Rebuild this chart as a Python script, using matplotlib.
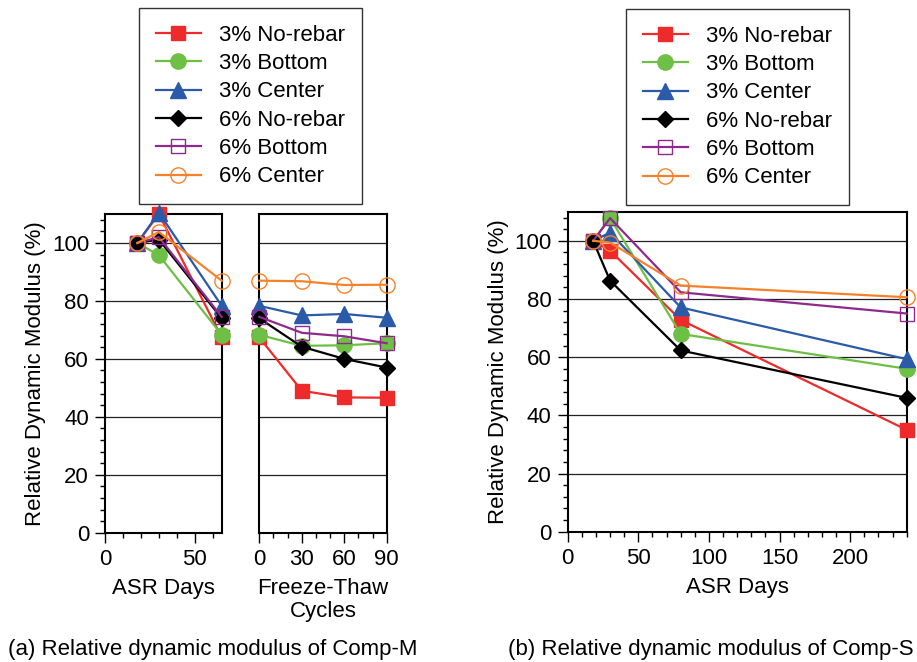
import matplotlib
matplotlib.use("Agg")
import matplotlib.pyplot as plt
from matplotlib.ticker import MultipleLocator

plt.rcParams["font.family"] = ["Liberation Sans", "DejaVu Sans"]
plt.rcParams["font.size"] = 16

labels = ["3% No-rebar", "3% Bottom", "3% Center", "6% No-rebar", "6% Bottom", "6% Center"]
colors = ["#ee2a2a", "#6dbf45", "#2a5aa8", "#000000", "#8e2a8e", "#f5822a"]
markers = ["s", "o", "^", "D", "s", "o"]
filled = [True, True, True, True, False, False]

# Comp-M: ASR exposure, then freeze-thaw cycles
asr_days_m = [18, 30, 65]
ft_cycles = [0, 30, 60, 90]
m_asr = [
    [100, 110.0, 67.4],
    [100, 95.8, 68.3],
    [100, 110.5, 78.3],
    [100, 101.2, 74.0],
    [100, 102.0, 74.5],
    [100, 103.8, 87.0],
]
m_ft = [
    [67.4, 49.0, 46.7, 46.6],
    [68.3, 64.5, 64.7, 65.4],
    [78.3, 75.0, 75.5, 74.2],
    [74.0, 64.2, 60.0, 57.0],
    [74.5, 69.0, 67.8, 65.4],
    [87.0, 86.8, 85.5, 85.6],
]

# Comp-S: ASR exposure only
asr_days_s = [18, 30, 80, 240]
s_asr = [
    [100, 96.6, 72.8, 35.0],
    [100, 107.8, 68.0, 56.0],
    [100, 102.8, 77.1, 59.3],
    [100, 86.3, 62.3, 46.0],
    [100, 107.8, 82.3, 75.0],
    [100, 99.4, 84.6, 80.6],
]

marker_size = {"s": 10.5, "o": 11, "^": 11.5, "D": 8.5}


def draw_series(ax, x, ys):
    handles = []
    for i, y in enumerate(ys):
        h, = ax.plot(
            x, y, color=colors[i], lw=1.6, marker=markers[i],
            ms=marker_size[markers[i]],
            mfc=colors[i] if filled[i] else "none", mec=colors[i],
            mew=1.0, clip_on=False, zorder=3, label=labels[i],
        )
        handles.append(h)
    return handles


def style_axis(ax, xmaj, xmin):
    ax.set_ylim(0, 110)
    ax.yaxis.set_major_locator(MultipleLocator(20))
    ax.yaxis.set_minor_locator(MultipleLocator(4))
    ax.xaxis.set_major_locator(MultipleLocator(xmaj))
    ax.xaxis.set_minor_locator(MultipleLocator(xmin))
    ax.grid(axis="y", which="major", color="#222222", lw=0.9)
    ax.set_axisbelow(True)
    for sp in ax.spines.values():
        sp.set_linewidth(1.5)
    ax.tick_params(which="major", direction="out", length=7, width=1.0,
                   labelsize=16, pad=4.5)
    ax.tick_params(which="minor", direction="out", length=3.5, width=1.0)
    ax.tick_params(top=False, right=False, which="both")


fig = plt.figure(figsize=(9.17, 6.62), dpi=100)

ax1 = fig.add_axes([0.1145, 0.1953, 0.1273, 0.4814])
ax2 = fig.add_axes([0.2828, 0.1953, 0.1389, 0.4814])
ax3 = fig.add_axes([0.6191, 0.1968, 0.3697, 0.4834])

h_left = draw_series(ax1, asr_days_m, m_asr)
draw_series(ax2, ft_cycles, m_ft)
h_right = draw_series(ax3, asr_days_s, s_asr)

style_axis(ax1, 50, 10)
ax1.set_xlim(0, 65)
style_axis(ax2, 30, 10)
ax2.set_xlim(0, 90)
ax2.tick_params(axis="y", which="both", left=False, labelleft=False)
style_axis(ax3, 50, 10)
ax3.set_xlim(0, 240)

ylabel = "Relative Dynamic Modulus (%)"
ax1.set_ylabel(ylabel, fontsize=16, labelpad=4)
ax3.set_ylabel(ylabel, fontsize=16, labelpad=4)
ax1.set_xlabel("ASR Days", fontsize=16, labelpad=6)
ax2.set_xlabel("Freeze-Thaw\nCycles", fontsize=16, labelpad=6, linespacing=1.15)
ax3.set_xlabel("ASR Days", fontsize=16, labelpad=6)

leg_kw = dict(
    loc="upper left", fontsize=16, frameon=True, fancybox=False,
    edgecolor="black", handlelength=2.05, labelspacing=0.33,
    borderpad=0.75, handletextpad=0.82, borderaxespad=0,
)
lg1 = fig.legend(handles=h_left, bbox_to_anchor=(139 / 917, 1 - 8 / 662), **leg_kw)
lg2 = fig.legend(handles=h_right, bbox_to_anchor=(626 / 917, 1 - 9 / 662), **leg_kw)
for lg in (lg1, lg2):
    lg.get_frame().set_linewidth(1.0)

fig.text(8 / 917, 1 - 649 / 662, "(a) Relative dynamic modulus of Comp-M",
         fontsize=16, va="center", ha="left")
fig.text(508 / 917, 1 - 649 / 662, "(b) Relative dynamic modulus of Comp-S",
         fontsize=16, va="center", ha="left")

fig.savefig("out.png", dpi=100)
